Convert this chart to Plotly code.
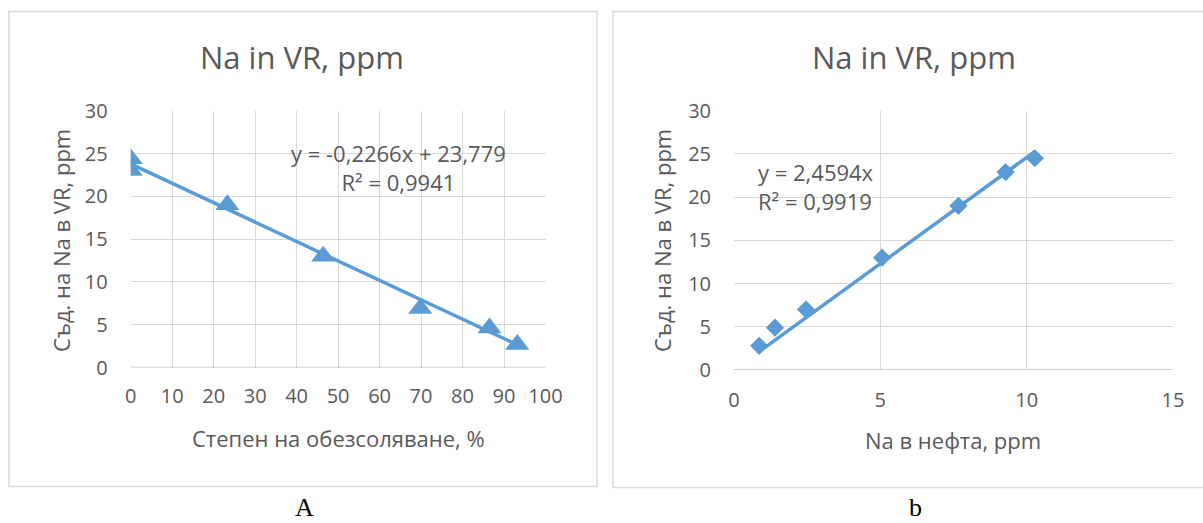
import plotly.graph_objects as go

# Chart A: desalting degree vs Na in vacuum residue
desalt_pct = [0, 0, 23.3, 46.4, 69.8, 86.5, 93.2]
na_vr_a = [24.4, 23.0, 19.0, 13.0, 6.9, 4.6, 2.7]
slope_a, icpt_a = -0.2266, 23.779
eq_a = "y = -0,2266x + 23,779<br>R² = 0,9941"

# Chart b: Na in crude oil vs Na in vacuum residue
na_crude = [0.86, 1.4, 2.46, 5.06, 7.67, 9.28, 10.28]
na_vr_b = [2.8, 4.9, 7.0, 13.0, 19.0, 22.9, 24.5]
slope_b = 2.4594
eq_b = "y = 2,4594x<br>R² = 0,9919"

title_txt = "Na in VR, ppm"
ytitle = "Съд. на Na в VR, ppm"
xtitle_a = "Степен на обезсоляване, %"
xtitle_b = "Na в нефта, ppm"
panel_labels = ["A", "b"]

W, H = 1203, 523
BLUE = "#5B9BD5"
TXT = "#595959"
GRID = "#d9d9d9"
FONT = "Open Sans"


def px(x):
    return x / W


def py(y):
    return 1 - y / H


fig = go.Figure()

# trend lines across the data range
xa = [min(desalt_pct), max(desalt_pct)]
fig.add_trace(go.Scatter(x=xa, y=[slope_a * v + icpt_a for v in xa], mode="lines",
                         line=dict(color=BLUE, width=3.5), xaxis="x", yaxis="y",
                         showlegend=False, hoverinfo="skip"))
fig.add_trace(go.Scatter(x=desalt_pct, y=na_vr_a, mode="markers",
                         marker=dict(symbol="triangle-up", size=21, color=BLUE,
                                     line=dict(width=0)),
                         xaxis="x", yaxis="y", showlegend=False))

xb = [min(na_crude), max(na_crude)]
fig.add_trace(go.Scatter(x=xb, y=[slope_b * v for v in xb], mode="lines",
                         line=dict(color=BLUE, width=3.5), xaxis="x2", yaxis="y2",
                         showlegend=False, hoverinfo="skip"))
fig.add_trace(go.Scatter(x=na_crude, y=na_vr_b, mode="markers",
                         marker=dict(symbol="diamond", size=14, color=BLUE,
                                     line=dict(width=0)),
                         xaxis="x2", yaxis="y2", showlegend=False))

axis_common = dict(showgrid=True, gridcolor=GRID, gridwidth=1.3, zeroline=False,
                   tickfont=dict(family=FONT, size=20, color=TXT),
                   showline=False, ticks="", fixedrange=True, automargin=False)

fig.update_layout(
    template=None,
    width=W, height=H, margin=dict(l=0, r=0, t=0, b=0, pad=0, autoexpand=False),
    paper_bgcolor="white", plot_bgcolor="white",
    xaxis=dict(axis_common, domain=[px(130.7), px(545.5)], range=[0, 100], dtick=10,
               anchor="y", ticklabelstandoff=14),
    yaxis=dict(axis_common, domain=[py(367.5), py(110.7)], range=[0, 30], dtick=5,
               anchor="x", ticklabelstandoff=22),
    xaxis2=dict(axis_common, domain=[px(734), px(1173)], range=[0, 15], dtick=5,
                anchor="y2", ticklabelstandoff=16),
    yaxis2=dict(axis_common, domain=[py(370), py(110.7)], range=[0, 30], dtick=5,
                anchor="x2", ticklabelstandoff=22),
)

shapes = []
# outer chart frames
shapes.append(dict(type="rect", xref="paper", yref="paper", x0=px(9), x1=px(597),
                   y0=py(486.5), y1=py(11.5), line=dict(color=GRID, width=1.5)))
shapes.append(dict(type="rect", xref="paper", yref="paper", x0=px(613), x1=px(1215),
                   y0=py(487.5), y1=py(11.5), line=dict(color=GRID, width=1.5)))
# darker bottom axis lines
shapes.append(dict(type="line", xref="x domain", yref="y", x0=0, x1=1, y0=0, y1=0,
                   line=dict(color="#bfbfbf", width=1.5)))
shapes.append(dict(type="line", xref="x2 domain", yref="y2", x0=0, x1=1, y0=0, y1=0,
                   line=dict(color="#bfbfbf", width=1.5)))
fig.update_layout(shapes=shapes)

ann = []
for cx in (302, 914):
    ann.append(dict(text=title_txt, x=px(cx), y=py(57), xref="paper", yref="paper",
                    showarrow=False, font=dict(family=FONT, size=31, color=TXT),
                    xanchor="center", yanchor="middle"))
for cx, cy in ((61, 240), (662, 241)):
    ann.append(dict(text=ytitle, x=px(cx), y=py(cy), xref="paper", yref="paper",
                    showarrow=False, textangle=-90,
                    font=dict(family=FONT, size=22, color=TXT),
                    xanchor="center", yanchor="middle"))
ann.append(dict(text=xtitle_a, x=px(338), y=py(438), xref="paper", yref="paper",
                showarrow=False, font=dict(family=FONT, size=22, color=TXT),
                xanchor="center", yanchor="middle"))
ann.append(dict(text=xtitle_b, x=px(953), y=py(440), xref="paper", yref="paper",
                showarrow=False, font=dict(family=FONT, size=22, color=TXT),
                xanchor="center", yanchor="middle"))
# trend equations
ann.append(dict(text=eq_a, x=px(398), y=py(167), xref="paper", yref="paper",
                showarrow=False, align="center",
                font=dict(family=FONT, size=22, color=TXT),
                xanchor="center", yanchor="middle"))
ann.append(dict(text=eq_b, x=px(756), y=py(187), xref="paper", yref="paper",
                showarrow=False, align="left",
                font=dict(family=FONT, size=22, color=TXT),
                xanchor="left", yanchor="middle"))
# panel letters, kept inside the page bottom
for cx, lbl in zip((304, 916), panel_labels):
    ann.append(dict(text=lbl, x=px(cx), y=0, xref="paper", yref="paper",
                    showarrow=False, font=dict(family="Liberation Serif", size=26, color="black"),
                    xanchor="center", yanchor="bottom", borderpad=0))
fig.update_layout(annotations=ann)

fig.write_html("out.html")
